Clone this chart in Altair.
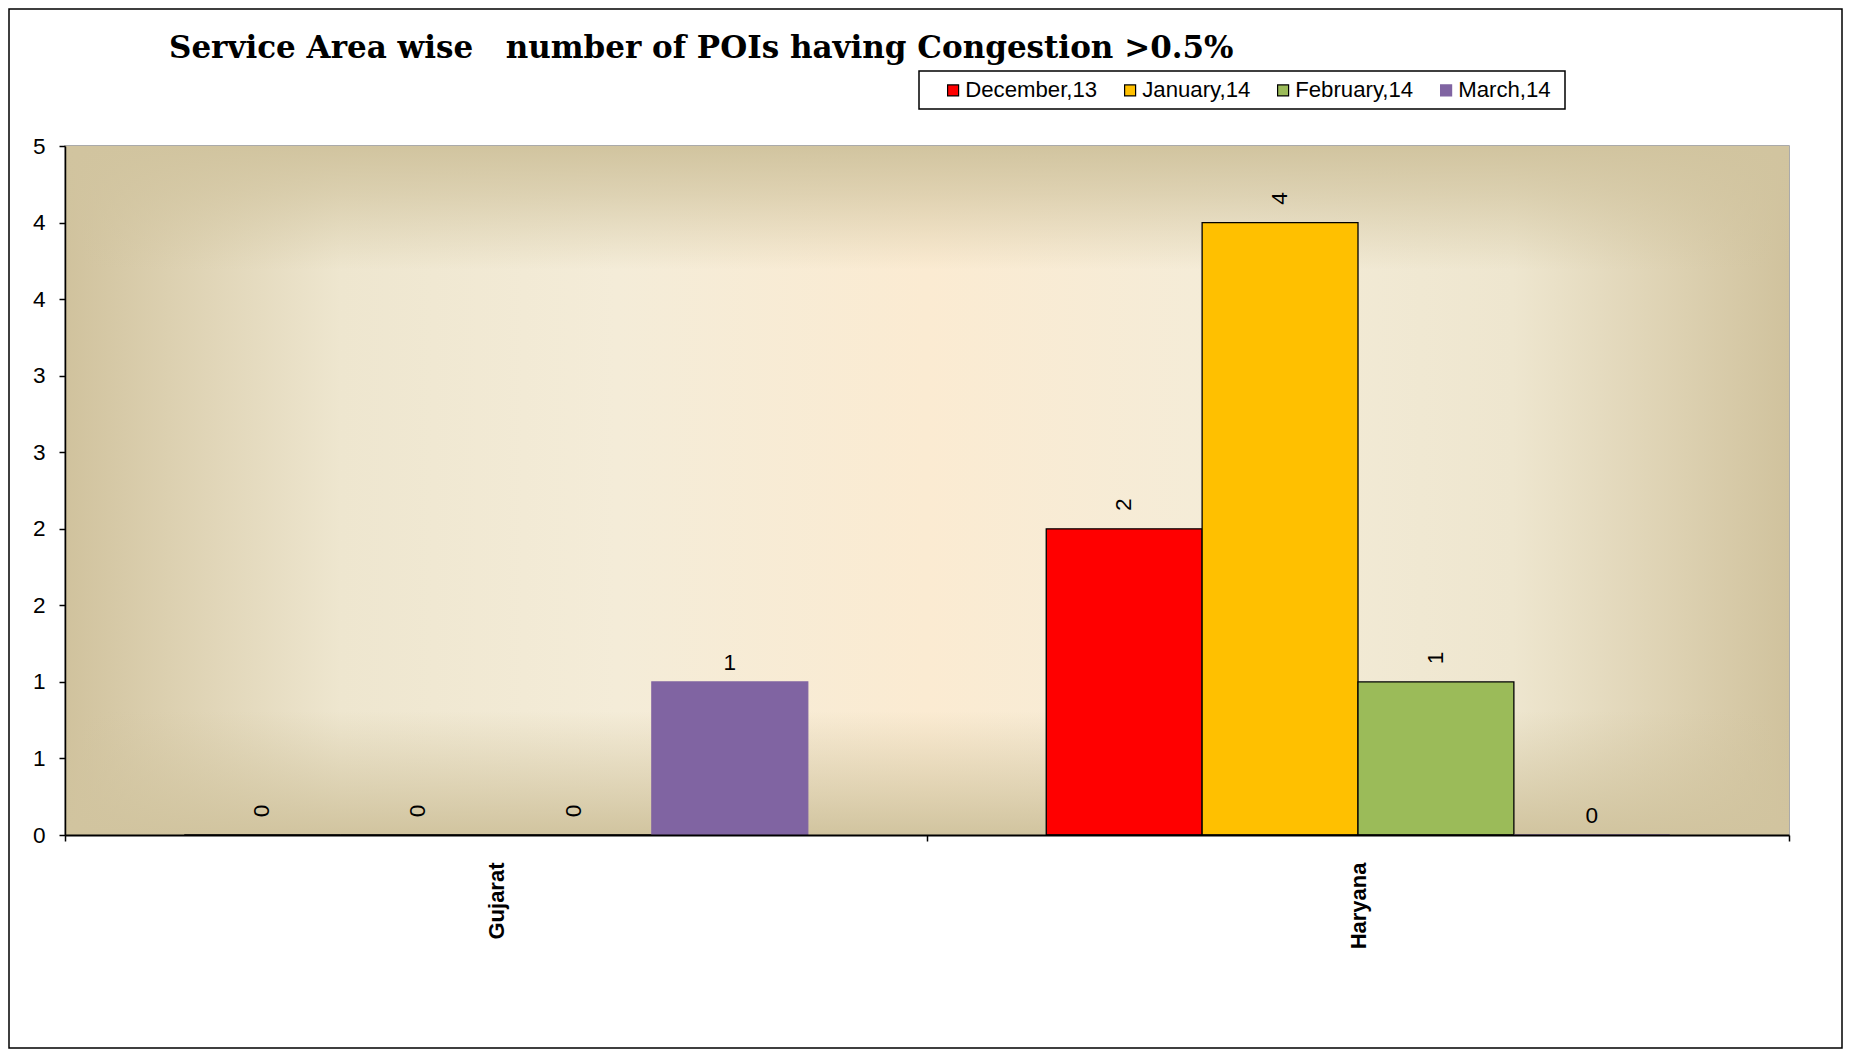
import altair as alt
import pandas as pd

# ---- data ----
areas = ["Gujarat", "Haryana"]
months = ["December,13", "January,14", "February,14", "March,14"]
dec13 = [0, 2]
jan14 = [0, 4]
feb14 = [0, 1]
mar14 = [1, 0]
y_ticks = [0, 0.5, 1, 1.5, 2, 2.5, 3, 3.5, 4, 4.5]
title_text = "Service Area wise\u00a0\u00a0 number of POIs having Congestion >0.5%"

colors = ["#FF0000", "#FFC000", "#9BBB59", "#8064A2"]
strokes = ["#000000", "#000000", "#000000", "#8064A2"]

rows = []
for m, vals in zip(months, [dec13, jan14, feb14, mar14]):
    for a, v in zip(areas, vals):
        rows.append({"area": a, "month": m, "value": v})
df = pd.DataFrame(rows)

W, H = 1724, 689
PL, PT, PR, PB = 57, 138, 54, 214
FONT = "Liberation Sans"
FS = 22.6

one = pd.DataFrame({"k": [0]})

hgrad = alt.LinearGradient(
    gradient="linear", x1=0, y1=0, x2=1, y2=0,
    stops=[
        alt.GradientStop(offset=0.0, color="#D0C29D"),
        alt.GradientStop(offset=0.06, color="#DCD0B0"),
        alt.GradientStop(offset=0.16, color="#EEE6CF"),
        alt.GradientStop(offset=0.32, color="#F4ECD8"),
        alt.GradientStop(offset=0.5, color="#FBEBD2"),
        alt.GradientStop(offset=0.68, color="#F4ECD8"),
        alt.GradientStop(offset=0.84, color="#EEE6CF"),
        alt.GradientStop(offset=0.94, color="#DCD0B0"),
        alt.GradientStop(offset=1.0, color="#D0C29D"),
    ],
)
vgrad = alt.LinearGradient(
    gradient="linear", x1=0, y1=0, x2=0, y2=1,
    stops=[
        alt.GradientStop(offset=0.0, color="rgba(209,196,159,1)"),
        alt.GradientStop(offset=0.07, color="rgba(209,196,159,0.65)"),
        alt.GradientStop(offset=0.18, color="rgba(209,196,159,0)"),
        alt.GradientStop(offset=0.82, color="rgba(209,196,159,0)"),
        alt.GradientStop(offset=0.93, color="rgba(209,196,159,0.6)"),
        alt.GradientStop(offset=1.0, color="rgba(209,196,159,1)"),
    ],
)

bg1 = alt.Chart(one).mark_rect(fill=hgrad).encode(
    x=alt.value(0), x2=alt.value(W), y=alt.value(0), y2=alt.value(H)
)
bg2 = alt.Chart(one).mark_rect(fill=vgrad).encode(
    x=alt.value(0), x2=alt.value(W), y=alt.value(0), y2=alt.value(H)
)

leg = dict(
    title=None, orient="none", legendX=870, legendY=-74, direction="horizontal",
    padding=7, symbolType="square",
    symbolSize=121, symbolStrokeWidth=1.2, labelFont=FONT, labelFontSize=22.2,
    labelColor="black", columnPadding=21, labelOffset=1, symbolOpacity=1,
)

x_enc = alt.X(
    "area:N", sort=areas,
    scale=alt.Scale(domain=areas, paddingInner=0, paddingOuter=0),
    axis=alt.Axis(
        title=None, labelAngle=-90, labelFont=FONT, labelFontWeight="bold",
        labelFontSize=22, labelColor="black", labelPadding=21, tickBand="extent",
        tickSize=6, tickColor="black", tickWidth=1.5, domainColor="black",
        domainWidth=2, grid=False, zindex=1,
    ),
)
xo_enc = alt.XOffset(
    "month:N", sort=months,
    scale=alt.Scale(domain=months, paddingOuter=0.765, paddingInner=0),
)
y_enc = alt.Y(
    "value:Q",
    scale=alt.Scale(domain=[0, 4.5], nice=False, zero=True),
    axis=alt.Axis(
        title=None, values=y_ticks, labelExpr="round(datum.value)", labelFont=FONT,
        labelFontSize=FS, labelColor="black", labelPadding=14, tickSize=6,
        tickColor="black", tickWidth=1.5, domainColor="black", domainWidth=1.5,
        grid=False, zindex=1,
    ),
)

bars = alt.Chart(df).mark_bar(strokeWidth=1.3).encode(
    x=x_enc,
    xOffset=xo_enc,
    y=y_enc,
    color=alt.Color("month:N", sort=months,
                    scale=alt.Scale(domain=months, range=colors),
                    legend=alt.Legend(**leg)),
    stroke=alt.Stroke("month:N", sort=months,
                      scale=alt.Scale(domain=months, range=strokes),
                      legend=alt.Legend(**leg)),
)

lab_rot = alt.Chart(df).transform_filter(
    "datum.month != 'March,14'"
).mark_text(angle=270, align="center", baseline="middle", dx=24,
            font=FONT, fontSize=FS, color="black").encode(
    x=alt.X("area:N", sort=areas),
    xOffset=alt.XOffset("month:N", sort=months),
    y=alt.Y("value:Q"),
    text=alt.Text("value:Q", format="d"),
)
lab_up = alt.Chart(df).transform_filter(
    "datum.month == 'March,14'"
).mark_text(align="center", baseline="alphabetic", dy=-12,
            font=FONT, fontSize=FS, color="black").encode(
    x=alt.X("area:N", sort=areas),
    xOffset=alt.XOffset("month:N", sort=months),
    y=alt.Y("value:Q"),
    text=alt.Text("value:Q", format="d"),
)

title_df = pd.DataFrame({"t": [title_text]})
title_mark = alt.Chart(title_df).mark_text(
    align="left", baseline="alphabetic", font="DejaVu Serif", fontWeight="bold",
    fontSize=31, color="black",
).encode(x=alt.value(104), y=alt.value(-88), text="t:N")

legend_box = alt.Chart(one).mark_rect(fill="white", stroke="black", strokeWidth=1.5).encode(
    x=alt.value(854), x2=alt.value(1500), y=alt.value(-75), y2=alt.value(-37)
)

border = alt.Chart(one).mark_rect(fill="transparent", stroke="black", strokeWidth=1.5).encode(
    x=alt.value(-PL + 1), x2=alt.value(W + PR - 1),
    y=alt.value(-PT + 1), y2=alt.value(H + PB - 1),
)

chart = alt.layer(bg1, bg2, legend_box, bars, lab_rot, lab_up, title_mark, border).properties(
    width=W, height=H,
    autosize=alt.AutoSizeParams(type="none"),
    padding={"left": PL, "top": PT, "right": PR, "bottom": PB},
    background="white",
).configure_view(stroke="#8E8E8E", strokeWidth=1.5)

chart.save("out.html", embed_options={"renderer": "svg", "actions": False})
